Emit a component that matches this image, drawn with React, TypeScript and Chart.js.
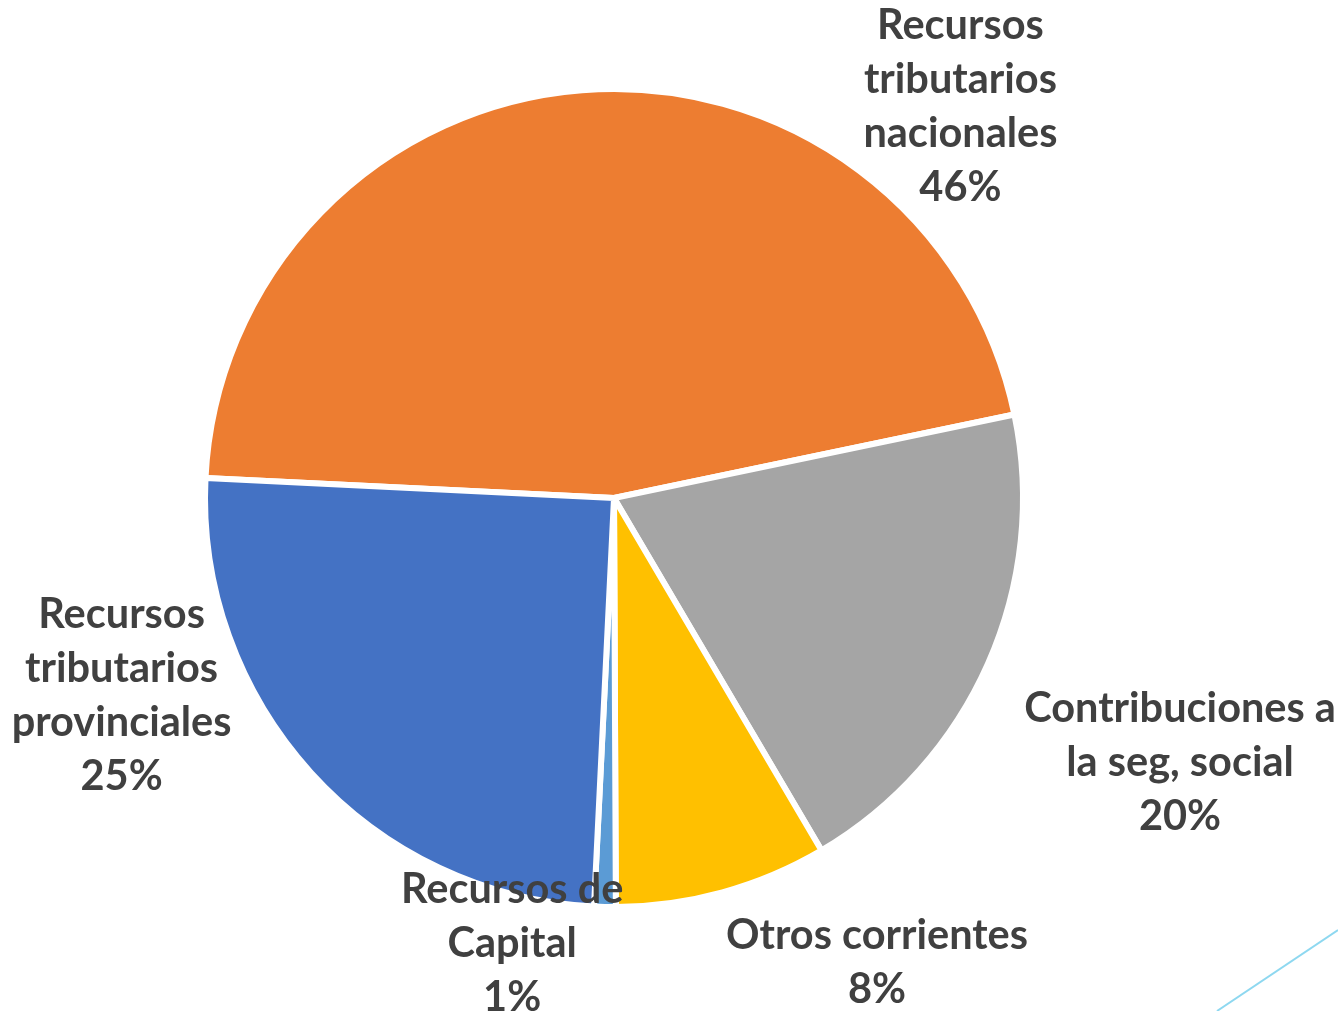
import React, { useEffect, useRef } from "react";
import { Chart, registerables } from "chart.js";

Chart.register(...registerables);

const categories = [
  "Recursos tributarios nacionales",
  "Contribuciones a la seg, social",
  "Otros corrientes",
  "Recursos de Capital",
  "Recursos tributarios provinciales",
];
const labelLines = [
  ["Recursos", "tributarios", "nacionales"],
  ["Contribuciones a", "la seg, social"],
  ["Otros corrientes"],
  ["Recursos de", "Capital"],
  ["Recursos", "tributarios", "provinciales"],
];
const values = [45.95, 19.8, 8.4, 0.85, 25.0];
const colors = ["#ED7D31", "#A5A5A5", "#FFC000", "#5B9BD5", "#4472C4"];

// label block centre, in units of the pie radius, relative to the pie centre
const labelOffsets = [
  [0.847, -0.958],
  [1.384, 0.647],
  [0.643, 1.136],
  [-0.249, 1.089],
  [-1.204, 0.483],
];

const FONT = "bold 41.5px Lato, 'Open Sans', sans-serif";
const LINE_H = 54;

const labelPlugin = {
  id: "sliceLabels",
  afterDatasetsDraw(chart: any) {
    const meta = chart.getDatasetMeta(0);
    const total = values.reduce((a, b) => a + b, 0);
    const ctx = chart.ctx;
    ctx.save();
    ctx.font = FONT;
    ctx.fillStyle = "#404040";
    ctx.textAlign = "center";
    ctx.textBaseline = "middle";
    meta.data.forEach((arc: any, i: number) => {
      const r = arc.outerRadius;
      const cx = arc.x + labelOffsets[i][0] * r;
      const cy = arc.y + labelOffsets[i][1] * r;
      const lines = [...labelLines[i], Math.round((values[i] / total) * 100) + "%"];
      const start = cy - ((lines.length - 1) * LINE_H) / 2;
      lines.forEach((ln, k) => ctx.fillText(ln, cx, start + k * LINE_H));
    });
    ctx.restore();
  },
  afterDraw(chart: any) {
    const ctx = chart.ctx;
    ctx.save();
    ctx.strokeStyle = "#8ED8F0";
    ctx.lineWidth = 2;
    ctx.beginPath();
    ctx.moveTo(chart.width - 121, chart.height);
    ctx.lineTo(chart.width, chart.height - 81);
    ctx.stroke();
    ctx.restore();
  },
};

export default function App() {
  const ref = useRef<HTMLCanvasElement | null>(null);
  useEffect(() => {
    if (!ref.current) return;
    const chart = new Chart(ref.current, {
      type: "pie",
      data: {
        labels: categories,
        datasets: [
          {
            data: values,
            backgroundColor: colors,
            borderColor: "#FFFFFF",
            borderWidth: 6,
            hoverOffset: 0,
          },
        ],
      },
      options: {
        responsive: false,
        animation: false,
        rotation: -87.2,
        radius: 409,
        layout: { padding: { left: 0, right: 110, top: 0, bottom: 15 } },
        plugins: {
          legend: { display: false },
          tooltip: { enabled: false },
        },
      },
      plugins: [labelPlugin],
    });
    return () => chart.destroy();
  }, []);
  return (
    <div style={{ position: "fixed", left: 0, top: 0, width: 1338, height: 1011, background: "#fff" }}>
      <canvas ref={ref} width={1338} height={1011} />
    </div>
  );
}
